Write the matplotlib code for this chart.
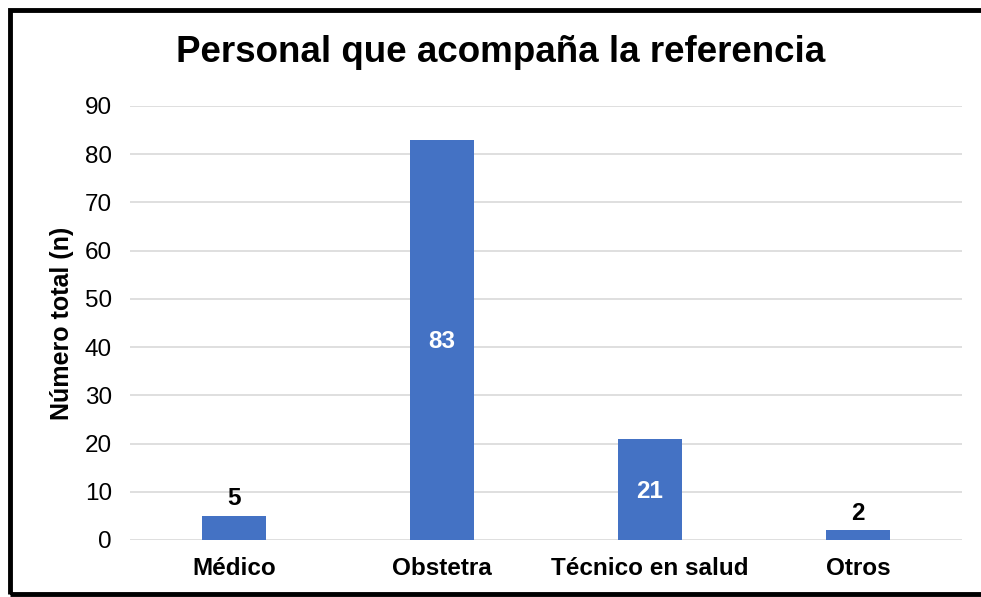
import matplotlib
matplotlib.use("Agg")
import matplotlib.pyplot as plt
from matplotlib.patches import Rectangle

categories = ["Médico", "Obstetra", "Técnico en salud", "Otros"]
values = [5, 83, 21, 2]
yticks = [0, 10, 20, 30, 40, 50, 60, 70, 80, 90]
title = "Personal que acompaña la referencia"
ylabel = "Número total (n)"

plt.rcParams['font.family'] = ['Liberation Sans', 'DejaVu Sans']

W, H = 981, 597
fig = plt.figure(figsize=(W/100, H/100), dpi=100)
ax = fig.add_axes([130/W, 1 - 540/H, 832/W, (540-106)/H])

x = list(range(len(categories)))
bars = ax.bar(x, values, width=0.31, color="#4472C4", zorder=3)
ax.set_xlim(-0.5, len(categories) - 0.5)
ax.set_ylim(0, 90)
ax.set_yticks(yticks)
ax.set_xticks(x)
ax.set_xticklabels(categories, fontsize=17.5, fontweight='bold')
ax.tick_params(axis='y', labelsize=17.5, length=0, pad=13)
ax.tick_params(axis='x', length=0, pad=12)
ax.grid(axis='y', color='#D9D9D9', linewidth=1.2, zorder=0)
for s in ax.spines.values():
    s.set_visible(False)
ax.set_ylabel(ylabel, fontsize=18, fontweight='bold', labelpad=8)

for xi, v in zip(x, values):
    if v > 10:
        ax.text(xi, v/2 - 0.4, str(v), ha='center', va='center', color='white',
                fontsize=17.5, fontweight='bold', zorder=4)
    else:
        ax.text(xi, v + 1.2, str(v), ha='center', va='bottom', color='black',
                fontsize=17.5, fontweight='bold', zorder=4)

fig.text(501/W, 1 - 53/H, title, ha='center', va='center', fontsize=26.5, fontweight='bold')

fig.patches.append(Rectangle((10/W, 3/H), (W+10)/W, (H-13)/H, transform=fig.transFigure,
                             fill=False, edgecolor='black', linewidth=3.5, clip_on=False))

fig.savefig("out.png", dpi=100)
